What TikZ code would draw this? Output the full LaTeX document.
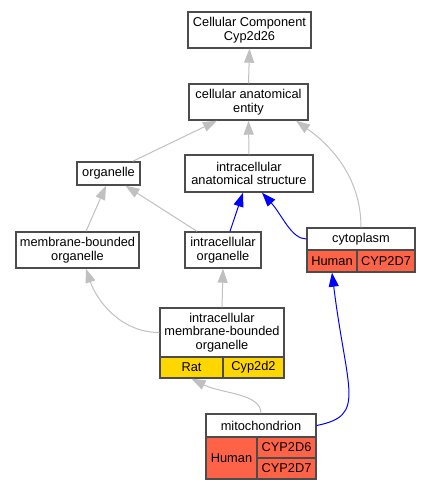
\documentclass[tikz,border=0pt]{standalone}
\usepackage{fontspec}
\setmainfont{Liberation Sans}
\usetikzlibrary{arrows.meta}
\definecolor{edgegray}{RGB}{192,192,192}
\definecolor{human}{RGB}{255,99,71}
\definecolor{rat}{RGB}{255,215,0}

\begin{document}
\begin{tikzpicture}[x=1pt,y=-1pt,
	term/.style={draw=black!70, line width=1.4pt, fill=white, align=center, inner sep=0pt, font=\fontsize{12.8}{13.6}\selectfont},
	isa/.style={draw=edgegray, line width=1pt, -{Triangle[length=14pt,width=10pt,fill=edgegray]}},
	part/.style={draw=blue, line width=1pt, -{Triangle[length=14pt,width=10pt,fill=blue]}}]
	\useasboundingbox (0,0) rectangle (432,491);
	
	\node[term, minimum width=123pt, minimum height=36pt] (cc) at (249.5,30) {Cellular Component\\Cyp2d26};
	\node[term, minimum width=119pt, minimum height=36pt] (cae) at (248.5,102) {cellular anatomical\\entity};
	\node[term, minimum width=63pt, minimum height=23pt] (org) at (108.5,173.5) {organelle};
	\node[term, minimum width=128pt, minimum height=37pt] (ias) at (249,173.5) {intracellular\\anatomical structure};
	\node[term, minimum width=123pt, minimum height=36pt] (mbo) at (77.5,250) {membrane-bounded\\organelle};
	\node[term, minimum width=76pt, minimum height=36pt] (io) at (223,250) {intracellular\\organelle};
	
	\node[term, minimum width=108pt, minimum height=22pt] (cyto) at (361,239) {cytoplasm};
	\node[term, fill=human, minimum width=50pt, minimum height=22pt] (cytohum) at (332,261) {Human};
	\node[term, fill=human, minimum width=58pt, minimum height=22pt] (cytocyp) at (386,261) {CYP2D7};
	
	\node[term, minimum width=124pt, minimum height=49pt] (imbo) at (222,332.5) {intracellular\\membrane-bounded\\organelle};
	\node[term, fill=rat, minimum width=63pt, minimum height=21pt] (imborat) at (191.5,367.5) {Rat};
	\node[term, fill=rat, minimum width=61pt, minimum height=21pt] (imbocyp) at (253.5,367.5) {Cyp2d2};
	
	\node[term, minimum width=110pt, minimum height=23pt] (mito) at (261,425.5) {mitochondrion};
	\node[term, fill=human, minimum width=51pt, minimum height=42pt] (mitohum) at (231.5,458) {Human};
	\node[term, fill=human, minimum width=59pt, minimum height=21pt] (mitocyp6) at (286.5,447.5) {CYP2D6};
	\node[term, fill=human, minimum width=59pt, minimum height=21pt] (mitocyp7) at (286.5,468.5) {CYP2D7};
	
	\draw[isa] (cae.north) -- (cc.south);
	\draw[isa] ([xshift=-8pt]org.north east) -- ([xshift=-31.5pt]cae.south);
	\draw[isa] (ias.north) -- (cae.south);
	\draw[isa] (cyto.north) .. controls +(0,-50) and +(35,25) .. ([xshift=47.5pt]cae.south);
	\draw[isa] ([xshift=8.5pt]mbo.north) -- ([xshift=-2.5pt]org.south);
	\draw[isa] ([xshift=-26pt]io.north) -- ([xshift=17pt]org.south);
	\draw[part] ([xshift=7pt]io.north) -- ([xshift=-6pt]ias.south);
	\draw[part] (cyto.west) .. controls +(-15,0) and +(20,22) .. ([xshift=13pt]ias.south);
	\draw[isa] (imbo.west) .. controls +(-40,0) and +(10,30) .. ([xshift=8.5pt]mbo.south);
	\draw[isa] (imbo.north) -- (io.south);
	\draw[isa] (mito.north) .. controls +(0,-20) and +(30,15) .. (imborat.south);
	\draw[part] (mito.east) .. controls +(50,-10) and +(15,120) .. (cytohum.south);
\end{tikzpicture}
\end{document}
